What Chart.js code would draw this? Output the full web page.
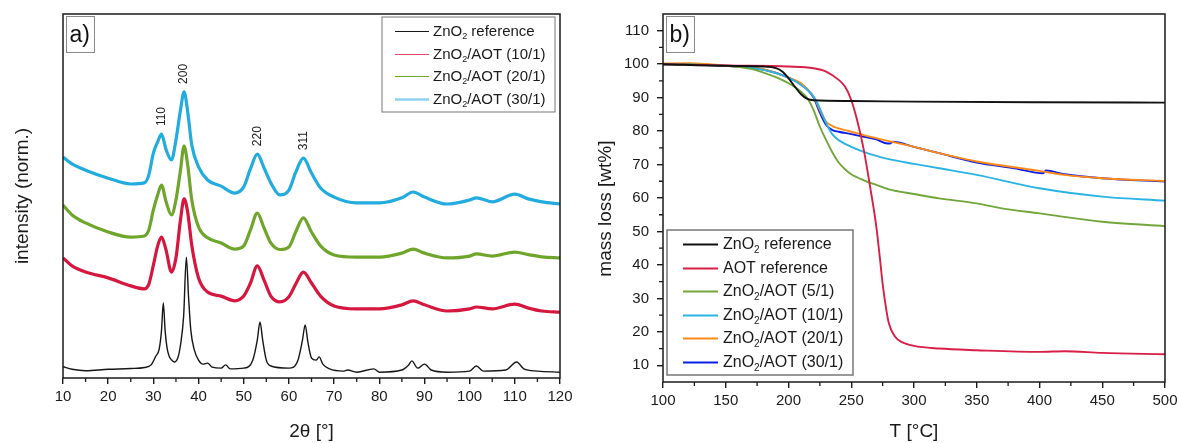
<!DOCTYPE html>
<html><head><meta charset="utf-8">
<script src="https://cdn.jsdelivr.net/npm/chart.js@4.4.1/dist/chart.umd.min.js"></script>
<style>
html,body{margin:0;padding:0;background:#fff;}
#wrap{position:relative;width:1179px;height:443px;overflow:hidden;}
#ca{position:absolute;left:0;top:0;}
#cb{position:absolute;left:590px;top:0;}
</style></head><body>
<div id="wrap"><canvas id="ca" width="590" height="443"></canvas><canvas id="cb" width="589" height="443"></canvas></div>
<script>
// ---------- Panel a: XRD ----------
const xrdTicks = [10,20,30,40,50,60,70,80,90,100,110,120];
const xrdMinorTicks = [15,25,35,45,55,65,75,85,95,105,115];
const hklLabels = ['110','200','220','311'];
const hklAngles = [31.8, 36.8, 53, 63.2];

const refAngle = [10,12,15,20,25,28,29.5,30.5,31.3,31.8,32.2,32.6,33,33.5,34,34.6,35.4,36,36.7,37.3,37.8,38.3,39,40,41,42,43,45,46,47,50,52,53,53.6,54.2,55,56,60,62,63,63.6,64.2,65,66,66.7,67.5,69,72,73,75,78.8,80,85,86.5,87.2,88.5,90,91.5,95,100,101.5,103,108,110.4,112,115,120];
const refInt   = [3.1,2.4,2.0,2.4,2.6,2.9,3.6,5.9,8.0,13.0,20.6,13.0,8.5,6.0,5.0,4.4,5.5,9.0,17.0,33.2,22.0,13.0,8.0,4.9,3.8,4.1,3.0,2.7,3.6,2.5,2.7,4.9,10.4,15.4,10.4,4.9,3.3,2.7,4.9,10.4,14.6,9.9,5.5,4.9,5.8,3.8,2.5,1.9,2.2,1.6,2.5,1.6,2.2,3.6,4.7,2.7,3.8,2.2,1.6,1.9,3.3,1.9,2.2,4.4,2.5,1.9,1.6];

const compAngle = [10,12,15,20,25,28,29,30,31,31.8,32.8,34,35,36,36.8,37.6,38.5,40,42,45,48,50,51.5,53,54.5,56,58,60,61.5,63.2,65,67,70,75,80,85,87.5,90,95,100,101.5,105,110,113,116,120];
const aot10Int = [33.0,30.8,29.1,27.5,25.3,24.5,25.8,31.0,36.5,38.7,35.2,29.1,33.0,43.4,49.2,45.5,36.5,27.5,23.6,22.5,21.2,22.5,26.1,30.8,26.9,22.5,20.9,22.3,25.8,29.1,26.1,22.5,19.8,19.0,19.0,20.1,21.2,20.1,18.4,19.0,19.5,19.0,20.3,19.2,18.4,18.1];
const aot20Int = [47.5,44.8,42.6,40.1,38.7,39.0,40.7,46.2,50.5,53.0,48.5,44.8,48.9,57.1,63.7,58.5,48.9,41.5,38.5,37.1,35.4,36.3,40.7,45.3,41.2,37.1,35.3,36.0,40.1,44.0,40.1,36.3,33.8,33.2,33.2,34.3,35.4,34.3,33.0,33.5,34.1,33.5,34.6,33.9,33.3,33.0];
const aot30Int = [60.7,58.8,57.1,54.9,53.3,53.6,55.8,61.8,65.0,67.0,62.8,59.9,65.4,73.6,78.6,73.1,64.0,58.0,54.4,52.7,50.8,52.5,57.5,61.5,57.7,53.6,50.3,51.6,56.5,60.4,56.3,52.2,49.7,48.1,48.1,49.5,51.1,49.7,47.8,48.9,49.5,48.4,50.5,49.2,48.4,47.8];

// ---------- Panel b: TGA ----------
const tgaTicksX = [100,150,200,250,300,350,400,450,500];
const tgaMinorX = [125,175,225,275,325,375,425,475];
const tgaTicksY = [10,20,30,40,50,60,70,80,90,100,110];
const tgaMinorY = [15,25,35,45,55,65,75,85,95,105];

const zno2T = [100,150,180,190,195,200,205,210,215,220,250,300,400,500];
const zno2M = [100,99.5,99.3,98.8,97.8,95.8,93.3,91.0,89.6,89.2,89.0,88.8,88.6,88.5];
const aotT = [100,150,200,220,230,240,245,250,255,260,265,270,273,275,278,280,285,290,300,320,350,400,420,450,500];
const aotM = [100,99.6,99.3,98.8,97.8,95.3,93.3,89.3,82.8,74.4,63.4,51.4,41.4,34.4,26.4,22.5,18.5,17.0,15.8,15.0,14.5,14.0,14.2,13.7,13.3];
const s5T = [100,150,170,180,190,200,210,215,220,225,230,235,240,245,250,260,270,280,300,320,350,370,400,450,500];
const s5M = [100,99.5,98.6,97.5,96.1,94.3,91.8,89.8,86.3,81.3,77.3,73.6,70.6,68.6,67.1,65.3,63.9,62.6,61.2,59.9,58.4,56.9,55.4,52.9,51.6];
const s10T = [100,150,180,200,210,215,220,225,230,235,240,250,260,270,280,300,320,350,400,450,500];
const s10M = [100,99.6,98.3,96.0,93.8,92.3,90.3,86.8,82.3,79.0,77.3,75.3,73.8,72.6,71.6,70.2,68.9,66.9,62.9,60.4,59.2];
const s20T = [100,120,150,180,200,210,215,220,225,230,235,240,250,260,280,300,320,350,400,420,450,500];
const s20M = [100.2,100.3,99.6,98.5,96.0,94.3,92.5,90.3,86.3,82.8,81.5,80.8,79.8,78.8,77.0,75.3,73.4,70.9,68.1,66.9,65.9,65.1];
const s30T = [100,120,150,180,200,210,215,220,225,230,235,240,250,260,270,279,281,283,300,320,350,380,403,405,420,450,500];
const s30M = [100,100.1,99.5,98.4,96.0,94.0,92.5,90.0,85.5,81.8,80.3,79.8,79.1,78.3,77.5,76.3,76.3,76.8,75.3,73.4,70.6,68.9,67.4,68.2,67.1,65.9,64.9];

// ---------- helpers ----------
const FONT = '"Liberation Sans", Arial, Helvetica, sans-serif';
Chart.defaults.font.family = FONT;
Chart.defaults.color = '#1a1a1a';
const pts = (xs, ys) => xs.map((x, i) => ({x: x, y: ys[i]}));

function drawRich(ctx, text, x, y, size) {
  const parts = text.split('\u2082');
  ctx.textBaseline = 'middle'; ctx.textAlign = 'left'; ctx.fillStyle = '#1a1a1a';
  let cx = x;
  parts.forEach((p, i) => {
    ctx.font = size + 'px ' + FONT;
    ctx.fillText(p, cx, y);
    cx += ctx.measureText(p).width;
    if (i < parts.length - 1) {
      const s = Math.round(size * 0.62);
      ctx.font = s + 'px ' + FONT;
      ctx.fillText('2', cx, y + size * 0.36);
      cx += ctx.measureText('2').width;
    }
  });
}

function framePlugin(minX, minY, xLen, yLen) {
  return {
    id: 'frame',
    afterDatasetsDraw(chart) {
      const {ctx, chartArea: a} = chart;
      ctx.save();
      ctx.strokeStyle = '#1a1a1a'; ctx.lineWidth = 1.5;
      ctx.strokeRect(a.left, a.top, a.right - a.left, a.bottom - a.top);
      ctx.lineWidth = 1.3;
      ctx.beginPath();
      if (minX) minX.forEach(v => { const p = chart.scales.x.getPixelForValue(v); ctx.moveTo(p, a.bottom); ctx.lineTo(p, a.bottom + xLen); });
      if (minY) minY.forEach(v => { const p = chart.scales.y.getPixelForValue(v); ctx.moveTo(a.left, p); ctx.lineTo(a.left - yLen, p); });
      ctx.stroke();
      ctx.restore();
    }
  };
}

function panelLabel(chart, txt) {
  const {ctx, chartArea: a} = chart;
  const bx = a.left + 3, by = a.top + 2;
  ctx.save();
  ctx.fillStyle = '#fff'; ctx.fillRect(bx, by, 28, 36);
  ctx.strokeStyle = '#8a8a8a'; ctx.lineWidth = 1; ctx.strokeRect(bx + 0.5, by + 0.5, 28, 36);
  ctx.fillStyle = '#111'; ctx.font = '23px ' + FONT; ctx.textBaseline = 'alphabetic'; ctx.textAlign = 'left';
  ctx.fillText(txt, bx + 3.5, by + 26);
  ctx.restore();
}

function drawLegend(chart, box, row0, step, l0, l1, tx, size, borderW) {
  const ctx = chart.ctx;
  ctx.save();
  ctx.fillStyle = '#fff'; ctx.fillRect(box.x, box.y, box.w, box.h);
  ctx.strokeStyle = '#777'; ctx.lineWidth = borderW; ctx.strokeRect(box.x, box.y, box.w, box.h);
  chart.data.datasets.forEach((ds, i) => {
    const y = Math.round(box.y + row0 + i * step) + 0.5;
    ctx.strokeStyle = ds.legendColor || ds.borderColor; ctx.lineWidth = ds.legendWidth || 2;
    ctx.beginPath(); ctx.moveTo(box.x + l0, y); ctx.lineTo(box.x + l1, y); ctx.stroke();
    drawRich(ctx, ds.label, box.x + tx, y, size);
  });
  ctx.restore();
}

// ---------- Chart a ----------
new Chart(document.getElementById('ca'), {
  type: 'line',
  data: {
    datasets: [
      {label: 'ZnO\u2082 reference', data: pts(refAngle, refInt), borderColor: '#161616', borderWidth: 1.4, legendWidth: 1},
      {label: 'ZnO\u2082/AOT (10/1)', data: pts(compAngle, aot10Int), borderColor: '#d5173f', borderWidth: 3.2, legendWidth: 1.2, legendColor: '#e0486a'},
      {label: 'ZnO\u2082/AOT (20/1)', data: pts(compAngle, aot20Int), borderColor: '#6fa52a', borderWidth: 3.2, legendWidth: 1.2},
      {label: 'ZnO\u2082/AOT (30/1)', data: pts(compAngle, aot30Int), borderColor: '#22abdf', borderWidth: 3.2, legendWidth: 2.5, legendColor: '#8fd3f0'}
    ]
  },
  options: {
    responsive: false, animation: false, events: [],
    layout: {padding: {top: 14, right: 30, left: 0, bottom: 0}},
    elements: {point: {radius: 0}, line: {cubicInterpolationMode: 'monotone', fill: false}},
    plugins: {legend: {display: false}, tooltip: {enabled: false}},
    scales: {
      x: {
        type: 'linear', min: 10, max: 120,
        afterBuildTicks: s => { s.ticks = xrdTicks.map(v => ({value: v})); },
        afterFit: s => { s.height = 65; s.paddingLeft = 0; s.paddingRight = 0; },
        ticks: {font: {size: 15}, color: '#1a1a1a', padding: 4, maxRotation: 0, autoSkip: false},
        grid: {drawOnChartArea: false, drawTicks: true, tickLength: 6, color: '#1a1a1a', lineWidth: 1.4},
        border: {display: false},
        title: {display: true, text: '2\u03b8 [\u00b0]', font: {size: 19}, color: '#1a1a1a', padding: {top: 0, bottom: 0}}
      },
      y: {
        type: 'linear', min: 0, max: 100,
        afterFit: s => { s.width = 63; s.paddingTop = 0; s.paddingBottom = 0; },
        ticks: {display: false},
        grid: {display: false},
        border: {display: false},
        title: {display: true, text: 'intensity (norm.)', font: {size: 19}, color: '#1a1a1a', padding: {top: 11, bottom: 0}}
      }
    }
  },
  plugins: [framePlugin(xrdMinorTicks, null, 4, 0), {
    id: 'decoA',
    afterDraw(chart) {
      const ctx = chart.ctx, xs = chart.scales.x, ys = chart.scales.y;
      ctx.save();
      ctx.fillStyle = '#1a1a1a'; ctx.font = '12px ' + FONT;
      hklLabels.forEach((t, i) => {
        const idx = compAngle.indexOf(hklAngles[i]);
        const px = xs.getPixelForValue(hklAngles[i]);
        const py = ys.getPixelForValue(aot30Int[idx]);
        ctx.save(); ctx.translate(px, py - 8); ctx.rotate(-Math.PI / 2);
        ctx.textAlign = 'left'; ctx.textBaseline = 'middle'; ctx.fillText(t, 0, 0);
        ctx.restore();
      });
      ctx.restore();
      const a = chart.chartArea;
      drawLegend(chart, {x: a.right - 178, y: a.top + 3, w: 173, h: 95}, 13.7, 22.8, 13, 47, 51, 15, 1);
      panelLabel(chart, 'a)');
    }
  }]
});

// ---------- Chart b ----------
new Chart(document.getElementById('cb'), {
  type: 'line',
  data: {
    datasets: [
      {label: 'ZnO\u2082 reference', data: pts(zno2T, zno2M), borderColor: '#111111'},
      {label: 'AOT reference', data: pts(aotT, aotM), borderColor: '#d71f47'},
      {label: 'ZnO\u2082/AOT (5/1)', data: pts(s5T, s5M), borderColor: '#72a63a'},
      {label: 'ZnO\u2082/AOT (10/1)', data: pts(s10T, s10M), borderColor: '#2ab3e3'},
      {label: 'ZnO\u2082/AOT (20/1)', data: pts(s20T, s20M), borderColor: '#ff8a17'},
      {label: 'ZnO\u2082/AOT (30/1)', data: pts(s30T, s30M), borderColor: '#0a1ee8'}
    ]
  },
  options: {
    responsive: false, animation: false, events: [],
    layout: {padding: {top: 14, right: 14, left: 0, bottom: 0}},
    elements: {point: {radius: 0}, line: {cubicInterpolationMode: 'monotone', fill: false, borderWidth: 1.9}},
    plugins: {legend: {display: false}, tooltip: {enabled: false}},
    scales: {
      x: {
        type: 'linear', min: 100, max: 500,
        afterBuildTicks: s => { s.ticks = tgaTicksX.map(v => ({value: v})); },
        afterFit: s => { s.height = 61; s.paddingLeft = 0; s.paddingRight = 0; },
        ticks: {font: {size: 15}, color: '#1a1a1a', padding: 4, maxRotation: 0, autoSkip: false},
        grid: {drawOnChartArea: false, drawTicks: true, tickLength: 6, color: '#1a1a1a', lineWidth: 1.4},
        border: {display: false},
        title: {display: true, text: 'T [\u00b0C]', font: {size: 19}, color: '#1a1a1a', padding: {top: 0, bottom: 0}}
      },
      y: {
        type: 'linear', min: 5, max: 115,
        afterBuildTicks: s => { s.ticks = tgaTicksY.map(v => ({value: v})); },
        afterFit: s => { s.width = 73; s.paddingTop = 0; s.paddingBottom = 0; },
        ticks: {font: {size: 15}, color: '#1a1a1a', padding: 8, autoSkip: false},
        grid: {drawOnChartArea: false, drawTicks: true, tickLength: 6, color: '#1a1a1a', lineWidth: 1.4},
        border: {display: false},
        title: {display: true, text: 'mass loss [wt%]\u00a0\u00a0\u00a0\u00a0', font: {size: 19}, color: '#1a1a1a', padding: {top: 4, bottom: 0}}
      }
    }
  },
  plugins: [framePlugin(tgaMinorX, tgaMinorY, 4, 4), {
    id: 'decoB',
    afterDraw(chart) {
      const a = chart.chartArea;
      drawLegend(chart, {x: a.left + 4, y: a.bottom - 152, w: 186, h: 145}, 14, 23.6, 16, 51, 56, 16, 1.5);
      panelLabel(chart, 'b)');
    }
  }]
});
</script>
</body></html>
